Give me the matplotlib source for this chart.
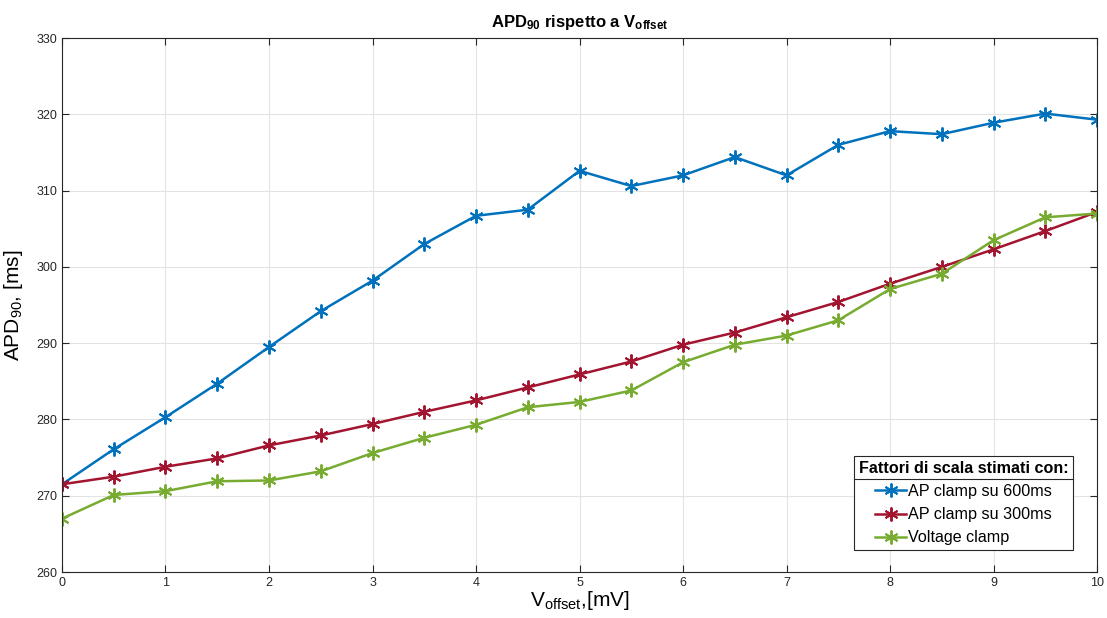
import matplotlib
matplotlib.use('Agg')
import matplotlib.pyplot as plt
from matplotlib.lines import Line2D

plt.rcParams['font.family'] = ['Liberation Sans', 'DejaVu Sans']
plt.rcParams['mathtext.fontset'] = 'custom'
plt.rcParams['mathtext.rm'] = 'Liberation Sans'
plt.rcParams['mathtext.it'] = 'Liberation Sans'
plt.rcParams['mathtext.bf'] = 'Liberation Sans:bold'

# Data
v_offset = [0, 0.5, 1, 1.5, 2, 2.5, 3, 3.5, 4, 4.5, 5,
            5.5, 6, 6.5, 7, 7.5, 8, 8.5, 9, 9.5, 10]
apd_600 = [271.5, 276.1, 280.3, 284.7, 289.5, 294.2, 298.2, 303.0, 306.7, 307.5, 312.6,
           310.6, 312.0, 314.4, 312.0, 316.0, 317.8, 317.4, 318.9, 320.1, 319.3]
apd_300 = [271.5, 272.5, 273.8, 274.9, 276.6, 277.9, 279.4, 281.0, 282.5, 284.2, 285.9,
           287.6, 289.8, 291.4, 293.4, 295.4, 297.8, 300.0, 302.3, 304.7, 307.2]
apd_vc = [267.0, 270.1, 270.6, 271.9, 272.0, 273.2, 275.6, 277.6, 279.3, 281.6, 282.3,
          283.8, 287.5, 289.8, 291.0, 293.0, 297.1, 299.1, 303.5, 306.5, 307.0]
labels = ['AP clamp su 600ms', 'AP clamp su 300ms', 'Voltage clamp']
colors = ['#0072BD', '#A2142F', '#77AC30']

fig = plt.figure(figsize=(11.07, 6.18), dpi=100)
ax = fig.add_axes([0.056, 0.0744, 0.935, 0.864])

# matlab-style asterisk marker
asterisk = (6, 2, 0)
for y, lab, c in zip([apd_600, apd_300, apd_vc], labels, colors):
    ax.plot(v_offset, y, color=c, marker=asterisk, markersize=10, linewidth=1.8,
            markeredgewidth=1.4, label=lab)

ax.set_xlim(0, 10)
ax.set_ylim(260, 330)
ax.set_xticks(range(0, 11))
ax.set_yticks(range(260, 331, 10))
ax.grid(True, color='#e3e3e3', linewidth=0.8)
ax.set_axisbelow(True)
ax.tick_params(direction='in', top=True, right=True, labelsize=9,
               colors='#262626', length=5, width=0.8)
for s in ax.spines.values():
    s.set_color('#262626')
    s.set_linewidth(0.8)

ax.set_title(r'$\mathbf{APD_{90}}$ rispetto a $\mathbf{V_{offset}}$',
             fontsize=12, fontweight='bold', pad=8)
ax.set_xlabel(r'V$_{offset}$,[mV]', fontsize=15, labelpad=0)
ax.set_ylabel(r'APD$_{90}$, [ms]', fontsize=15, labelpad=8)

leg = ax.legend(loc='lower right', bbox_to_anchor=(0.985, 0.026),
                title='Fattori di scala stimati con:', fontsize=11.6,
                title_fontproperties={'weight': 'bold', 'size': 11.6},
                fancybox=False, edgecolor='#262626', framealpha=1,
                handlelength=1.9, handletextpad=0.15, borderpad=0.3,
                labelspacing=0.5)
leg.get_frame().set_linewidth(0.8)

# separator line under the legend title
fig.canvas.draw()
rend = fig.canvas.get_renderer()
fb = leg.get_frame().get_window_extent(rend)
tb = leg.get_title().get_window_extent(rend)
ysep = tb.y0 - 3
inv = fig.transFigure.inverted()
x0, y0 = inv.transform((fb.x0, ysep))
x1, _ = inv.transform((fb.x1, ysep))
fig.add_artist(Line2D([x0, x1], [y0, y0], color='#262626', linewidth=0.8,
                      transform=fig.transFigure))

fig.savefig('out.png', dpi=100)
